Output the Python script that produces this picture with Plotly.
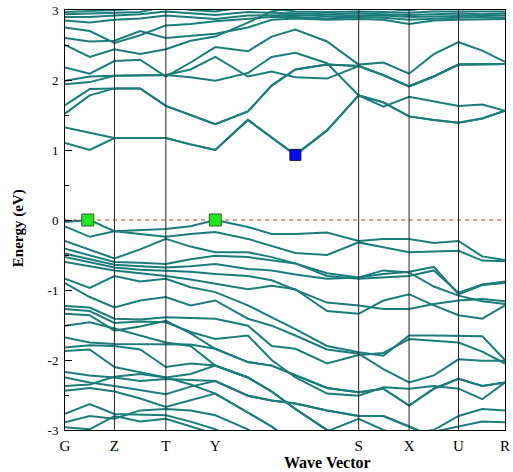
import plotly.graph_objects as go

# k-path sample positions (arbitrary units along the path)
kpts = [0, 25, 50, 76, 102, 127, 152, 185, 209, 233, 265, 297, 322, 348, 373, 398, 422, 445]
sym_pos = [0, 50, 102, 152, 297, 348, 398, 445]
sym_lbl = ["G", "Z", "T", "Y", "S", "X", "U", "R"]
vline_pos = [50, 102, 297, 348, 398]

# conduction bands (eV)
cb1 = [1.10, 1.00, 1.17, 1.17, 1.17, 1.08, 1.00, 1.43, 1.18, 0.93, 1.28, 1.78, 1.68, 1.48, 1.43, 1.39, 1.45, 1.56]
cb2 = [1.32, 1.25, 1.17, 1.17, 1.17, 1.08, 1.00, 1.43, 1.18, 0.93, 1.28, 1.78, 1.68, 1.48, 1.43, 1.39, 1.45, 1.56]
cb3 = [1.64, 1.87, 1.88, 1.88, 1.63, 1.50, 1.37, 1.55, 1.92, 2.15, 2.22, 2.20, 2.07, 1.91, 2.05, 2.22, 2.23, 2.23]
cb4 = [1.52, 1.78, 1.88, 1.88, 1.63, 1.50, 1.37, 1.55, 1.92, 2.15, 2.22, 2.20, 2.07, 1.91, 2.05, 2.22, 2.23, 2.23]
cb5 = [1.94, 1.97, 2.06, 2.06, 2.07, 2.04, 1.99, 2.10, 2.33, 2.39, 2.24, 1.78, 1.62, 1.76, 1.70, 1.63, 1.65, 1.56]
cb6 = [1.99, 2.05, 2.06, 2.06, 2.07, 2.15, 2.33, 2.05, 2.12, 2.04, 2.02, 2.20, 2.07, 1.91, 2.05, 2.22, 2.23, 2.23]
cb7 = [2.18, 2.09, 2.27, 2.29, 2.05, 2.25, 2.47, 2.41, 2.62, 2.72, 2.55, 2.22, 2.25, 2.09, 2.37, 2.54, 2.42, 2.26]
cb8 = [2.50, 2.33, 2.44, 2.37, 2.44, 2.56, 2.62, 2.82, 2.98, 3.05, 3.02, 3.03, 3.02, 3.00, 3.04, 3.05, 3.02, 3.03]
cb9 = [2.60, 2.55, 2.56, 2.70, 2.60, 2.63, 2.66, 2.75, 2.86, 2.88, 2.86, 2.87, 2.86, 2.80, 2.85, 2.86, 2.87, 2.87]
cb10 = [2.75, 2.70, 2.53, 2.64, 2.78, 2.80, 2.84, 2.88, 2.90, 2.90, 2.88, 2.90, 2.89, 2.86, 2.88, 2.89, 2.90, 2.89]
cb11 = [2.85, 2.82, 2.86, 2.88, 2.92, 2.90, 2.87, 2.92, 2.93, 2.93, 2.91, 2.92, 2.92, 2.90, 2.91, 2.92, 2.92, 2.92]
cb12 = [2.90, 2.90, 2.92, 2.94, 2.98, 2.95, 2.93, 2.97, 2.96, 2.95, 2.94, 2.95, 2.94, 2.93, 2.94, 2.95, 2.94, 2.95]
cb13 = [2.94, 2.95, 2.96, 2.97, 3.05, 3.00, 2.98, 3.05, 3.02, 2.98, 2.97, 2.98, 2.97, 2.96, 2.98, 2.98, 2.97, 2.98]
cb14 = [2.97, 2.98, 3.00, 3.02, 3.10, 3.08, 3.05, 3.12, 3.10, 3.05, 3.02, 3.03, 3.02, 3.00, 3.04, 3.05, 3.02, 3.03]

# valence bands (eV)
vb1 = [-0.03, 0.00, -0.16, -0.15, -0.13, -0.09, 0.00, -0.10, -0.20, -0.20, -0.18, -0.30, -0.27, -0.27, -0.33, -0.30, -0.52, -0.57]
vb2 = [-0.09, -0.24, -0.16, -0.20, -0.24, -0.20, -0.17, -0.27, -0.37, -0.47, -0.50, -0.32, -0.39, -0.46, -0.45, -0.44, -0.58, -0.59]
vb3 = [-0.30, -0.42, -0.55, -0.42, -0.27, -0.38, -0.46, -0.46, -0.53, -0.62, -0.80, -0.84, -0.82, -0.80, -0.72, -1.04, -0.92, -0.88]
vb4 = [-0.41, -0.50, -0.60, -0.61, -0.63, -0.56, -0.51, -0.53, -0.58, -0.62, -0.76, -0.82, -0.77, -0.74, -0.67, -1.06, -0.93, -0.90]
vb5 = [-0.48, -0.56, -0.64, -0.66, -0.68, -0.66, -0.63, -0.70, -0.72, -0.78, -0.84, -0.82, -0.72, -0.75, -0.95, -1.08, -1.16, -1.20]
vb6 = [-0.53, -0.60, -0.68, -0.71, -0.72, -0.74, -0.77, -0.80, -0.86, -1.00, -1.18, -1.22, -1.27, -1.27, -1.20, -1.15, -1.13, -1.16]
vb7 = [-0.60, -0.66, -0.72, -0.76, -0.80, -0.85, -0.91, -0.99, -0.94, -0.99, -1.30, -1.34, -1.15, -1.06, -1.22, -1.36, -1.41, -1.22]
vb8 = [-0.84, -0.97, -0.80, -0.88, -0.84, -0.96, -1.03, -1.22, -1.39, -1.56, -1.80, -1.89, -1.94, -1.65, -1.65, -1.65, -1.66, -2.00]
vb9 = [-0.90, -1.10, -1.25, -1.15, -1.10, -1.22, -1.15, -1.41, -1.51, -1.65, -1.85, -1.91, -2.13, -2.32, -2.22, -1.99, -2.01, -2.01]
vb10 = [-1.23, -1.25, -1.41, -1.42, -1.39, -1.40, -1.41, -1.51, -1.80, -1.84, -2.05, -1.93, -1.90, -1.70, -1.72, -1.75, -1.88, -2.05]
vb11 = [-1.27, -1.30, -1.47, -1.45, -1.46, -1.60, -1.70, -1.65, -2.00, -2.25, -2.48, -2.51, -2.39, -2.41, -2.37, -2.41, -2.56, -2.32]
vb12 = [-1.34, -1.36, -1.58, -1.52, -1.44, -1.62, -1.84, -2.03, -2.08, -2.22, -2.40, -2.46, -2.41, -2.65, -2.41, -2.27, -2.37, -2.32]
vb13 = [-1.51, -1.46, -1.55, -1.65, -1.75, -1.80, -2.08, -2.25, -2.45, -2.70, -3.00, -3.20, -3.20, -3.20, -3.20, -3.20, -3.20, -3.20]
vb14 = [-1.68, -1.75, -1.77, -1.77, -1.77, -1.78, -1.84, -2.03, -2.08, -2.22, -2.40, -2.46, -2.41, -2.65, -2.41, -2.27, -2.37, -2.32]
vb15 = [-1.82, -1.79, -1.80, -1.85, -2.10, -2.05, -2.08, -2.25, -2.45, -2.70, -3.00, -3.20, -3.20, -3.20, -3.20, -3.20, -3.20, -3.20]
vb16 = [-1.87, -1.85, -2.10, -2.18, -2.25, -2.20, -2.08, -2.25, -2.45, -2.70, -3.00, -3.20, -3.20, -3.20, -3.20, -3.20, -3.20, -3.20]
vb17 = [-2.17, -2.22, -2.25, -2.30, -2.27, -2.28, -2.30, -2.51, -2.58, -2.62, -2.72, -2.80, -2.80, -2.95, -3.10, -3.20, -3.20, -3.20]
vb18 = [-2.25, -2.32, -2.37, -2.43, -2.49, -2.38, -2.30, -2.51, -2.58, -2.62, -2.72, -2.80, -2.80, -2.95, -3.10, -3.20, -3.20, -3.20]
vb19 = [-2.37, -2.35, -2.24, -2.20, -2.25, -2.35, -2.48, -2.75, -2.95, -3.20, -3.20, -3.20, -3.20, -3.20, -3.20, -3.20, -3.20, -3.20]
vb20 = [-2.44, -2.40, -2.45, -2.55, -2.67, -2.58, -2.48, -2.75, -2.95, -3.20, -3.20, -3.20, -3.20, -3.20, -3.20, -3.20, -3.20, -3.20]
vb21 = [-2.77, -2.63, -2.77, -2.78, -2.79, -2.88, -2.99, -3.20, -3.20, -3.20, -3.20, -3.20, -3.20, -3.20, -3.20, -3.20, -3.20, -3.20]
vb22 = [-2.89, -2.80, -2.84, -2.72, -2.70, -2.72, -2.79, -2.99, -3.20, -3.20, -3.20, -3.20, -3.20, -3.20, -3.20, -3.20, -3.20, -3.20]
vb23 = [-2.96, -2.99, -2.80, -2.88, -2.84, -2.95, -3.05, -3.20, -3.20, -3.20, -3.02, -2.84, -3.00, -3.10, -3.20, -3.20, -3.20, -3.20]
vb24 = [-3.20, -3.20, -3.20, -3.20, -3.20, -3.20, -3.20, -3.20, -3.20, -3.20, -3.20, -3.10, -3.12, -3.05, -3.00, -2.80, -2.70, -2.72]
vb25 = [-3.20, -3.20, -3.20, -3.20, -3.20, -3.20, -3.20, -3.20, -3.20, -3.20, -3.20, -3.20, -3.20, -3.10, -3.02, -2.95, -2.88, -2.89]

# band extrema markers
vbm_k = [23, 152]
vbm_e = [0.0, 0.0]
cbm_k = [233]
cbm_e = [0.93]

bands = [cb1, cb2, cb3, cb4, cb5, cb6, cb7, cb8, cb9, cb10, cb11, cb12, cb13, cb14,
         vb1, vb2, vb3, vb4, vb5, vb6, vb7, vb8, vb9, vb10, vb11, vb12, vb13,
         vb14, vb15, vb16, vb17, vb18, vb19, vb20, vb21, vb22, vb23, vb24, vb25]

teal = "#1b7c7c"
serif = "Liberation Serif, Times New Roman, serif"

fig = go.Figure()
for b in bands:
    fig.add_trace(go.Scatter(x=kpts, y=b, mode="lines",
                             line=dict(color=teal, width=2), showlegend=False,
                             hoverinfo="skip"))

# Fermi level
fig.add_trace(go.Scatter(x=[kpts[0], kpts[-1]], y=[0, 0], mode="lines",
                         line=dict(color="#c0392b", width=1, dash="4px,4px"),
                         showlegend=False, hoverinfo="skip"))

fig.add_trace(go.Scatter(x=vbm_k, y=vbm_e, mode="markers",
                         marker=dict(symbol="square", size=12, color="#22e622",
                                     line=dict(color="#226622", width=1)),
                         showlegend=False))
fig.add_trace(go.Scatter(x=cbm_k, y=cbm_e, mode="markers",
                         marker=dict(symbol="square", size=11, color="#0a0aee",
                                     line=dict(color="#111144", width=1)),
                         showlegend=False))

for xv in vline_pos:
    fig.add_shape(type="line", x0=xv, x1=xv, y0=0, y1=1, xref="x", yref="paper",
                  line=dict(color="#222222", width=1), layer="above")

fig.update_layout(
    width=513, height=472,
    margin=dict(l=65, r=3, t=10, b=42),
    paper_bgcolor="white", plot_bgcolor="white",
    font=dict(family=serif, color="black"),
    xaxis=dict(range=[0, 445], tickvals=sym_pos, ticktext=sym_lbl, ticks="",
               showline=True, mirror=True, linecolor="black", linewidth=1,
               showgrid=False, zeroline=False, tickfont=dict(size=15, family=serif),
               ticklabelstandoff=2, ticklabeloverflow="allow"),
    yaxis=dict(range=[-3, 3], tickvals=[-3, -2, -1, 0, 1, 2, 3],
               ticktext=["-3", "-2", "-1", "0", "1", "2", "3"],
               ticks="inside", ticklen=7, tickcolor="black",
               minor=dict(ticks="inside", dtick=0.5, ticklen=4, tickcolor="black"),
               showline=True, mirror=True, linecolor="black", linewidth=1,
               showgrid=False, zeroline=False, tickfont=dict(size=13, family=serif),
               ticklabelstandoff=3),
    annotations=[
        dict(text="<b>Energy (eV)</b>", x=-0.105, y=0.48, xref="paper", yref="paper",
             textangle=-90, showarrow=False, font=dict(size=15, family=serif),
             xanchor="center", yanchor="middle"),
        dict(text="<b>Wave Vector</b>", x=0.596, y=-0.077, xref="paper", yref="paper",
             showarrow=False, font=dict(size=16, family=serif),
             xanchor="center", yanchor="middle"),
    ],
)

fig.write_html("out.html")
